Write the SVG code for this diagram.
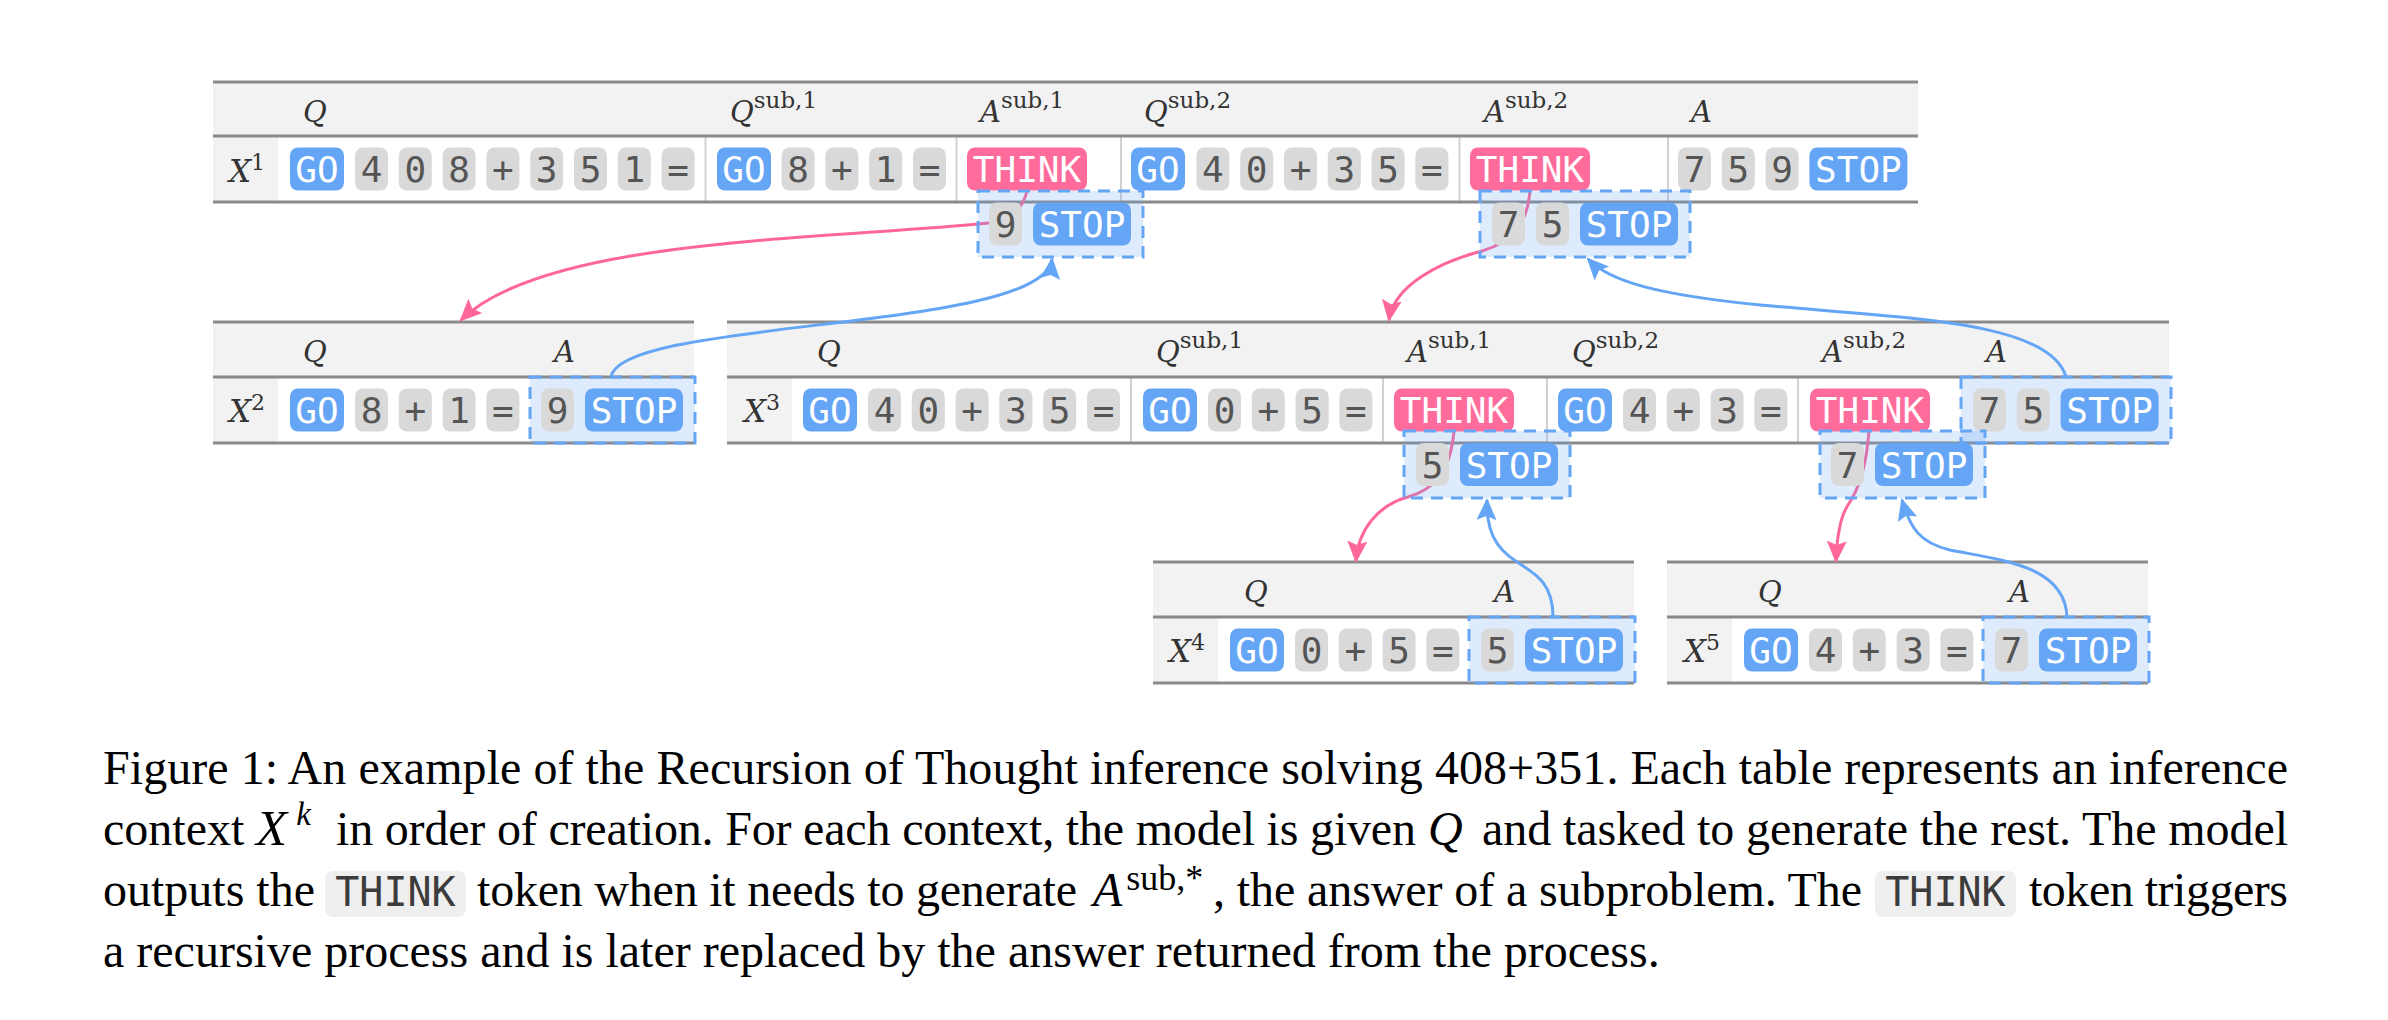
<svg xmlns="http://www.w3.org/2000/svg" width="2388" height="1020" viewBox="0 0 2388 1020">
<style>
.bg{fill:#ffffff}
.hdr{fill:#f2f2f2}
.tl{stroke:#8a8a8a;stroke-width:3;fill:none}
.sep{stroke:#d2d2d2;stroke-width:2}
.g{fill:#d9d9d9}
.b{fill:#64a5f5}
.p{fill:#ff6b9b}
.tt{font-family:"DejaVu Sans Mono","Liberation Mono",monospace;font-size:36px;text-anchor:middle;fill:#555555}
.tw{fill:#ffffff}
.box{fill:rgba(100,165,245,0.22);stroke:#64a5f5;stroke-width:3;stroke-dasharray:12 8}
.lab{font-family:"DejaVu Serif","Liberation Serif",serif;font-style:italic;font-size:29px;fill:#333333}
.sup{font-style:normal;font-size:23px}
.xl{font-family:"DejaVu Serif","Liberation Serif",serif;font-style:italic;font-size:31px;fill:#333333}
.xs{font-style:normal;font-size:22px}
.pk{stroke:#ff6699;stroke-width:3;fill:none}
.bl{stroke:#64a5f5;stroke-width:3;fill:none}
.cap{font-family:"Liberation Serif","Times New Roman",serif;font-size:48px;fill:#000000}
.capi{font-style:italic}
.csup{font-size:36px}
.ct{fill:#efefef}
.cm{font-family:"DejaVu Sans Mono","Liberation Mono",monospace;font-size:40px;fill:#3c3c3c;text-anchor:middle}
</style>
<defs>
<marker id="ap" markerUnits="userSpaceOnUse" markerWidth="24" markerHeight="22" refX="20" refY="10" orient="auto" viewBox="0 0 24 22">
<path d="M0,0 L22,10 L0,20 L4,10 Z" fill="#ff6699"/>
</marker>
<marker id="ab" markerUnits="userSpaceOnUse" markerWidth="24" markerHeight="22" refX="20" refY="10" orient="auto" viewBox="0 0 24 22">
<path d="M0,0 L22,10 L0,20 L4,10 Z" fill="#64a5f5"/>
</marker>
</defs>
<rect class="bg" x="0" y="0" width="2388" height="1020"/>

<!-- X1 table -->
<g id="ctx-x1">
<rect class="hdr" x="213" y="82" width="1705" height="54"/>
<rect class="hdr" x="213" y="136" width="65" height="66"/>
<line class="sep" x1="705.5" y1="136" x2="705.5" y2="202"/>
<line class="sep" x1="956.5" y1="136" x2="956.5" y2="202"/>
<line class="sep" x1="1121" y1="136" x2="1121" y2="202"/>
<line class="sep" x1="1459.5" y1="136" x2="1459.5" y2="202"/>
<line class="sep" x1="1668" y1="136" x2="1668" y2="202"/>
<line class="tl" x1="213" y1="82" x2="1918" y2="82"/>
<line class="tl" x1="213" y1="136" x2="1918" y2="136"/>
<line class="tl" x1="213" y1="202" x2="1918" y2="202"/>
<text class="lab" x="303" y="122">Q</text>
<text class="lab" x="730" y="122">Q<tspan class="sup" dy="-14">sub,1</tspan></text>
<text class="lab" x="980" y="122">A<tspan class="sup" dy="-14">sub,1</tspan></text>
<text class="lab" x="1144" y="122">Q<tspan class="sup" dy="-14">sub,2</tspan></text>
<text class="lab" x="1484" y="122">A<tspan class="sup" dy="-14">sub,2</tspan></text>
<text class="lab" x="1691" y="122">A</text>
<text class="xl" x="229" y="182">X<tspan class="xs" dy="-12">1</tspan></text>
<rect class="b" x="290" y="147.5" width="54" height="43" rx="8"/>
<rect class="g" x="355" y="147.5" width="33" height="43" rx="8"/>
<rect class="g" x="398.8" y="147.5" width="33" height="43" rx="8"/>
<rect class="g" x="442.6" y="147.5" width="33" height="43" rx="8"/>
<rect class="g" x="486.4" y="147.5" width="33" height="43" rx="8"/>
<rect class="g" x="530.2" y="147.5" width="33" height="43" rx="8"/>
<rect class="g" x="574" y="147.5" width="33" height="43" rx="8"/>
<rect class="g" x="617.8" y="147.5" width="33" height="43" rx="8"/>
<rect class="g" x="661.6" y="147.5" width="33" height="43" rx="8"/>
<rect class="b" x="717" y="147.5" width="54" height="43" rx="8"/>
<rect class="g" x="781.6" y="147.5" width="33" height="43" rx="8"/>
<rect class="g" x="825.4" y="147.5" width="33" height="43" rx="8"/>
<rect class="g" x="869.2" y="147.5" width="33" height="43" rx="8"/>
<rect class="g" x="913" y="147.5" width="33" height="43" rx="8"/>
<rect class="p" x="967" y="147.5" width="120" height="43" rx="8"/>
<rect class="b" x="1131" y="147.5" width="54" height="43" rx="8"/>
<rect class="g" x="1196.4" y="147.5" width="33" height="43" rx="8"/>
<rect class="g" x="1240.2" y="147.5" width="33" height="43" rx="8"/>
<rect class="g" x="1284" y="147.5" width="33" height="43" rx="8"/>
<rect class="g" x="1327.8" y="147.5" width="33" height="43" rx="8"/>
<rect class="g" x="1371.6" y="147.5" width="33" height="43" rx="8"/>
<rect class="g" x="1415.4" y="147.5" width="33" height="43" rx="8"/>
<rect class="p" x="1470" y="147.5" width="120" height="43" rx="8"/>
<rect class="g" x="1678" y="147.5" width="33" height="43" rx="8"/>
<rect class="g" x="1721.8" y="147.5" width="33" height="43" rx="8"/>
<rect class="g" x="1765.6" y="147.5" width="33" height="43" rx="8"/>
<rect class="b" x="1809.4" y="147.5" width="98" height="43" rx="8"/>
<text class="tt tw" x="317" y="182">GO</text>
<text class="tt" x="371.5" y="182">4</text>
<text class="tt" x="415.3" y="182">0</text>
<text class="tt" x="459.1" y="182">8</text>
<text class="tt" x="502.9" y="182">+</text>
<text class="tt" x="546.7" y="182">3</text>
<text class="tt" x="590.5" y="182">5</text>
<text class="tt" x="634.3" y="182">1</text>
<text class="tt" x="678.1" y="182">=</text>
<text class="tt tw" x="744" y="182">GO</text>
<text class="tt" x="798.1" y="182">8</text>
<text class="tt" x="841.9" y="182">+</text>
<text class="tt" x="885.7" y="182">1</text>
<text class="tt" x="929.5" y="182">=</text>
<text class="tt tw" x="1027" y="182">THINK</text>
<text class="tt tw" x="1158" y="182">GO</text>
<text class="tt" x="1212.9" y="182">4</text>
<text class="tt" x="1256.7" y="182">0</text>
<text class="tt" x="1300.5" y="182">+</text>
<text class="tt" x="1344.3" y="182">3</text>
<text class="tt" x="1388.1" y="182">5</text>
<text class="tt" x="1431.9" y="182">=</text>
<text class="tt tw" x="1530" y="182">THINK</text>
<text class="tt" x="1694.5" y="182">7</text>
<text class="tt" x="1738.3" y="182">5</text>
<text class="tt" x="1782.1" y="182">9</text>
<text class="tt tw" x="1858.4" y="182">STOP</text>
</g>

<!-- X2 table -->
<g id="ctx-x2">
<rect class="hdr" x="213" y="322" width="481" height="55"/>
<rect class="hdr" x="213" y="377" width="65" height="66"/>
<line class="tl" x1="213" y1="322" x2="694" y2="322"/>
<line class="tl" x1="213" y1="377" x2="694" y2="377"/>
<line class="tl" x1="213" y1="443" x2="694" y2="443"/>
<text class="lab" x="303" y="362">Q</text>
<text class="lab" x="554" y="362">A</text>
<text class="xl" x="229" y="422">X<tspan class="xs" dy="-12">2</tspan></text>
<rect class="b" x="290" y="388.5" width="54" height="43" rx="8"/>
<rect class="g" x="355" y="388.5" width="33" height="43" rx="8"/>
<rect class="g" x="398.8" y="388.5" width="33" height="43" rx="8"/>
<rect class="g" x="442.6" y="388.5" width="33" height="43" rx="8"/>
<rect class="g" x="486.4" y="388.5" width="33" height="43" rx="8"/>
<text class="tt tw" x="317" y="423">GO</text>
<text class="tt" x="371.5" y="423">8</text>
<text class="tt" x="415.3" y="423">+</text>
<text class="tt" x="459.1" y="423">1</text>
<text class="tt" x="502.9" y="423">=</text>
</g>

<!-- X3 table -->
<g id="ctx-x3">
<rect class="hdr" x="727" y="322" width="1442" height="55"/>
<rect class="hdr" x="727" y="377" width="65" height="66"/>
<line class="sep" x1="1131" y1="377" x2="1131" y2="443"/>
<line class="sep" x1="1383" y1="377" x2="1383" y2="443"/>
<line class="sep" x1="1547" y1="377" x2="1547" y2="443"/>
<line class="sep" x1="1798" y1="377" x2="1798" y2="443"/>
<line class="tl" x1="727" y1="322" x2="2169" y2="322"/>
<line class="tl" x1="727" y1="377" x2="2169" y2="377"/>
<line class="tl" x1="727" y1="443" x2="2169" y2="443"/>
<text class="lab" x="817" y="362">Q</text>
<text class="lab" x="1156" y="362">Q<tspan class="sup" dy="-14">sub,1</tspan></text>
<text class="lab" x="1407" y="362">A<tspan class="sup" dy="-14">sub,1</tspan></text>
<text class="lab" x="1572" y="362">Q<tspan class="sup" dy="-14">sub,2</tspan></text>
<text class="lab" x="1822" y="362">A<tspan class="sup" dy="-14">sub,2</tspan></text>
<text class="lab" x="1986" y="362">A</text>
<text class="xl" x="744" y="422">X<tspan class="xs" dy="-12">3</tspan></text>
<rect class="b" x="803" y="388.5" width="54" height="43" rx="8"/>
<rect class="g" x="868" y="388.5" width="33" height="43" rx="8"/>
<rect class="g" x="911.8" y="388.5" width="33" height="43" rx="8"/>
<rect class="g" x="955.6" y="388.5" width="33" height="43" rx="8"/>
<rect class="g" x="999.4" y="388.5" width="33" height="43" rx="8"/>
<rect class="g" x="1043.2" y="388.5" width="33" height="43" rx="8"/>
<rect class="g" x="1087" y="388.5" width="33" height="43" rx="8"/>
<rect class="b" x="1143" y="388.5" width="54" height="43" rx="8"/>
<rect class="g" x="1208" y="388.5" width="33" height="43" rx="8"/>
<rect class="g" x="1251.8" y="388.5" width="33" height="43" rx="8"/>
<rect class="g" x="1295.6" y="388.5" width="33" height="43" rx="8"/>
<rect class="g" x="1339.4" y="388.5" width="33" height="43" rx="8"/>
<rect class="p" x="1394" y="388.5" width="120" height="43" rx="8"/>
<rect class="b" x="1558" y="388.5" width="54" height="43" rx="8"/>
<rect class="g" x="1623" y="388.5" width="33" height="43" rx="8"/>
<rect class="g" x="1666.8" y="388.5" width="33" height="43" rx="8"/>
<rect class="g" x="1710.6" y="388.5" width="33" height="43" rx="8"/>
<rect class="g" x="1754.4" y="388.5" width="33" height="43" rx="8"/>
<rect class="p" x="1810" y="388.5" width="120" height="43" rx="8"/>
<text class="tt tw" x="830" y="423">GO</text>
<text class="tt" x="884.5" y="423">4</text>
<text class="tt" x="928.3" y="423">0</text>
<text class="tt" x="972.1" y="423">+</text>
<text class="tt" x="1015.9" y="423">3</text>
<text class="tt" x="1059.7" y="423">5</text>
<text class="tt" x="1103.5" y="423">=</text>
<text class="tt tw" x="1170" y="423">GO</text>
<text class="tt" x="1224.5" y="423">0</text>
<text class="tt" x="1268.3" y="423">+</text>
<text class="tt" x="1312.1" y="423">5</text>
<text class="tt" x="1355.9" y="423">=</text>
<text class="tt tw" x="1454" y="423">THINK</text>
<text class="tt tw" x="1585" y="423">GO</text>
<text class="tt" x="1639.5" y="423">4</text>
<text class="tt" x="1683.3" y="423">+</text>
<text class="tt" x="1727.1" y="423">3</text>
<text class="tt" x="1770.9" y="423">=</text>
<text class="tt tw" x="1870" y="423">THINK</text>
</g>

<!-- X4 table -->
<g id="ctx-x4">
<rect class="hdr" x="1153" y="562" width="481" height="55"/>
<rect class="hdr" x="1153" y="617" width="65" height="66"/>
<line class="tl" x1="1153" y1="562" x2="1634" y2="562"/>
<line class="tl" x1="1153" y1="617" x2="1634" y2="617"/>
<line class="tl" x1="1153" y1="683" x2="1634" y2="683"/>
<text class="lab" x="1244" y="602">Q</text>
<text class="lab" x="1494" y="602">A</text>
<text class="xl" x="1169" y="662">X<tspan class="xs" dy="-12">4</tspan></text>
<rect class="b" x="1230" y="628.5" width="54" height="43" rx="8"/>
<rect class="g" x="1295" y="628.5" width="33" height="43" rx="8"/>
<rect class="g" x="1338.8" y="628.5" width="33" height="43" rx="8"/>
<rect class="g" x="1382.6" y="628.5" width="33" height="43" rx="8"/>
<rect class="g" x="1426.4" y="628.5" width="33" height="43" rx="8"/>
<text class="tt tw" x="1257" y="663">GO</text>
<text class="tt" x="1311.5" y="663">0</text>
<text class="tt" x="1355.3" y="663">+</text>
<text class="tt" x="1399.1" y="663">5</text>
<text class="tt" x="1442.9" y="663">=</text>
</g>

<!-- X5 table -->
<g id="ctx-x5">
<rect class="hdr" x="1667" y="562" width="481" height="55"/>
<rect class="hdr" x="1667" y="617" width="65" height="66"/>
<line class="tl" x1="1667" y1="562" x2="2148" y2="562"/>
<line class="tl" x1="1667" y1="617" x2="2148" y2="617"/>
<line class="tl" x1="1667" y1="683" x2="2148" y2="683"/>
<text class="lab" x="1758" y="602">Q</text>
<text class="lab" x="2009" y="602">A</text>
<text class="xl" x="1684" y="662">X<tspan class="xs" dy="-12">5</tspan></text>
<rect class="b" x="1744" y="628.5" width="54" height="43" rx="8"/>
<rect class="g" x="1809" y="628.5" width="33" height="43" rx="8"/>
<rect class="g" x="1852.8" y="628.5" width="33" height="43" rx="8"/>
<rect class="g" x="1896.6" y="628.5" width="33" height="43" rx="8"/>
<rect class="g" x="1940.4" y="628.5" width="33" height="43" rx="8"/>
<text class="tt tw" x="1771" y="663">GO</text>
<text class="tt" x="1825.5" y="663">4</text>
<text class="tt" x="1869.3" y="663">+</text>
<text class="tt" x="1913.1" y="663">3</text>
<text class="tt" x="1956.9" y="663">=</text>
</g>

<!-- connectors -->
<g id="connectors">
<path class="pk" marker-end="url(#ap)" d="M1027,191 C1022,212 1008,220 988,223 C820,240 545,238 461,320"/>
<path class="bl" marker-end="url(#ab)" d="M611,377 C620,318 1045,332 1052,259"/>
<path class="pk" marker-end="url(#ap)" d="M1530,191 C1527,225 1512,242 1482,251 C1440,262 1394,285 1389,320"/>
<path class="bl" marker-end="url(#ab)" d="M2066,377 C2050,320 1900,318 1760,305 C1660,295 1610,282 1588,259"/>
<path class="pk" marker-end="url(#ap)" d="M1454,431 C1450,475 1432,490 1408,497 C1378,505 1358,530 1356,561"/>
<path class="bl" marker-end="url(#ab)" d="M1553,617 C1553,550 1485,580 1487,500"/>
<path class="pk" marker-end="url(#ap)" d="M1869,431 C1866,470 1858,490 1848,505 C1840,517 1837,535 1836,561"/>
<path class="bl" marker-end="url(#ab)" d="M2067,617 C2065,565 2000,560 1950,550 C1920,543 1910,528 1902,500"/>
</g>

<!-- answer boxes -->
<g id="ans-x1-sub1">
<rect class="box" x="978" y="191" width="165" height="66"/>
<rect class="g" x="989" y="202.5" width="33" height="43" rx="8"/>
<rect class="b" x="1033" y="202.5" width="98" height="43" rx="8"/>
<text class="tt" x="1005.5" y="237">9</text>
<text class="tt tw" x="1082" y="237">STOP</text>
</g>
<g id="ans-x1-sub2">
<rect class="box" x="1480" y="191" width="210" height="66"/>
<rect class="g" x="1492" y="202.5" width="33" height="43" rx="8"/>
<rect class="g" x="1536" y="202.5" width="33" height="43" rx="8"/>
<rect class="b" x="1580" y="202.5" width="98" height="43" rx="8"/>
<text class="tt" x="1508.5" y="237">7</text>
<text class="tt" x="1552.5" y="237">5</text>
<text class="tt tw" x="1629" y="237">STOP</text>
</g>
<g id="ans-x2">
<rect class="box" x="530" y="377" width="165" height="66"/>
<rect class="g" x="541" y="388.5" width="33" height="43" rx="8"/>
<rect class="b" x="585" y="388.5" width="98" height="43" rx="8"/>
<text class="tt" x="557.5" y="423">9</text>
<text class="tt tw" x="634" y="423">STOP</text>
</g>
<g id="ans-x3">
<rect class="box" x="1961" y="377" width="210" height="66"/>
<rect class="g" x="1973" y="388.5" width="33" height="43" rx="8"/>
<rect class="g" x="2016.8" y="388.5" width="33" height="43" rx="8"/>
<rect class="b" x="2060.6" y="388.5" width="98" height="43" rx="8"/>
<text class="tt" x="1989.5" y="423">7</text>
<text class="tt" x="2033.3" y="423">5</text>
<text class="tt tw" x="2109.6" y="423">STOP</text>
</g>
<g id="ans-x3-sub1">
<rect class="box" x="1404" y="431" width="166" height="67"/>
<rect class="g" x="1416" y="443" width="33" height="43" rx="8"/>
<rect class="b" x="1460" y="443" width="98" height="43" rx="8"/>
<text class="tt" x="1432.5" y="477.5">5</text>
<text class="tt tw" x="1509" y="477.5">STOP</text>
</g>
<g id="ans-x3-sub2">
<rect class="box" x="1820" y="431" width="165" height="67"/>
<rect class="g" x="1831" y="443" width="33" height="43" rx="8"/>
<rect class="b" x="1875" y="443" width="98" height="43" rx="8"/>
<text class="tt" x="1847.5" y="477.5">7</text>
<text class="tt tw" x="1924" y="477.5">STOP</text>
</g>
<g id="ans-x4">
<rect class="box" x="1469" y="617" width="166" height="66"/>
<rect class="g" x="1481" y="628.5" width="33" height="43" rx="8"/>
<rect class="b" x="1525" y="628.5" width="98" height="43" rx="8"/>
<text class="tt" x="1497.5" y="663">5</text>
<text class="tt tw" x="1574" y="663">STOP</text>
</g>
<g id="ans-x5">
<rect class="box" x="1983" y="617" width="166" height="66"/>
<rect class="g" x="1995" y="628.5" width="33" height="43" rx="8"/>
<rect class="b" x="2039" y="628.5" width="98" height="43" rx="8"/>
<text class="tt" x="2011.5" y="663">7</text>
<text class="tt tw" x="2088" y="663">STOP</text>
</g>

<!-- caption -->
<g id="caption">
<text class="cap" x="103" y="784" textLength="2185" lengthAdjust="spacing">Figure 1: An example of the Recursion of Thought inference solving 408+351. Each table represents an inference</text>
<text class="cap" x="103" y="845">context</text>
<text class="cap capi" x="256" y="845"><tspan style="font-size:51px">X</tspan><tspan style="font-size:33px" dx="9" dy="-20">k</tspan></text>
<text class="cap" x="336" y="845" textLength="1080" lengthAdjust="spacing">in order of creation. For each context, the model is given</text>
<text class="cap capi" x="1428" y="845">Q</text>
<text class="cap" x="1482" y="845" textLength="806" lengthAdjust="spacing">and tasked to generate the rest. The model</text>
<text class="cap" x="103" y="906">outputs the</text>
<rect class="ct" x="325" y="871" width="141" height="46" rx="8"/>
<text class="cm" x="395.5" y="906">THINK</text>
<text class="cap" x="477" y="906" textLength="600" lengthAdjust="spacing">token when it needs to generate</text>
<text class="cap capi" x="1093" y="906">A<tspan style="font-style:normal;font-size:36px" dx="4" dy="-16">sub,*</tspan></text>
<text class="cap" x="1213" y="906" textLength="649" lengthAdjust="spacing">, the answer of a subproblem. The</text>
<rect class="ct" x="1875" y="871" width="141" height="46" rx="8"/>
<text class="cm" x="1945.5" y="906">THINK</text>
<text class="cap" x="2029" y="906" textLength="259" lengthAdjust="spacing">token triggers</text>
<text class="cap" x="103" y="967">a recursive process and is later replaced by the answer returned from the process.</text>
</g>
</svg>
